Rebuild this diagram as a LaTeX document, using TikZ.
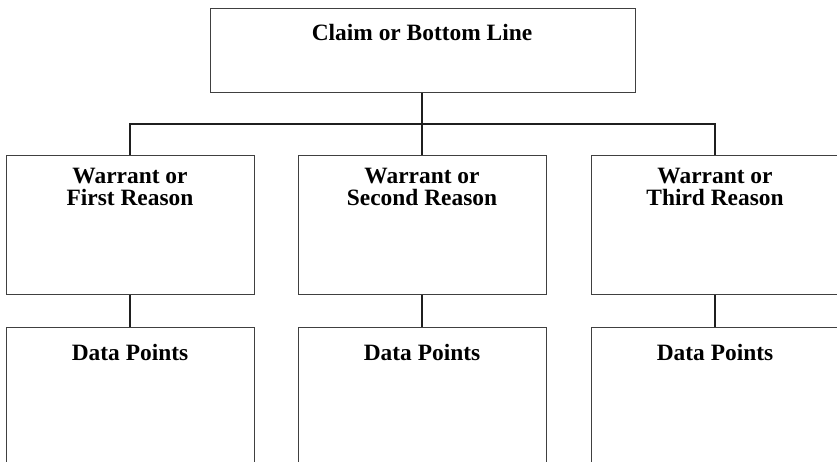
\documentclass[tikz,border=0pt]{standalone}
\usepackage{fontspec}
\setmainfont{Liberation Serif}
\begin{document}
\begin{tikzpicture}[x=1pt,y=-1pt,
  box/.style={draw=black!75,line width=1.3pt,rectangle,inner sep=0pt,anchor=north west},
  conn/.style={draw=black!88,line width=2.6pt},
  lbl/.style={anchor=base,inner sep=0pt,font=\fontsize{23.4}{26}\selectfont\bfseries}]
\useasboundingbox (0,0) rectangle (837,462);
\clip (0,0) rectangle (837,462);
\fill[white] (0,0) rectangle (837,462);
% top
\node[box,minimum width=425pt,minimum height=84pt] (top) at (210,8) {};
\node[lbl] (toptxt) at (422,41) {Claim or Bottom Line};
% middle boxes
\node[box,minimum width=248pt,minimum height=139pt] (w1) at (6,155) {};
\node[box,minimum width=248pt,minimum height=139pt] (w2) at (298,155) {};
\node[box,minimum width=248pt,minimum height=139pt] (w3) at (591,155) {};
\node[lbl] (w1a) at (130,184) {Warrant or};
\node[lbl] (w1b) at (130,206) {First Reason};
\node[lbl] (w2a) at (422,184) {Warrant or};
\node[lbl] (w2b) at (422,206) {Second Reason};
\node[lbl] (w3a) at (715,184) {Warrant or};
\node[lbl] (w3b) at (715,206) {Third Reason};
% bottom boxes
\node[box,minimum width=248pt,minimum height=160pt] (d1) at (6,327) {};
\node[box,minimum width=248pt,minimum height=160pt] (d2) at (298,327) {};
\node[box,minimum width=248pt,minimum height=160pt] (d3) at (591,327) {};
\node[lbl] (d1t) at (130,360) {Data Points};
\node[lbl] (d2t) at (422,360) {Data Points};
\node[lbl] (d3t) at (715,360) {Data Points};
% connectors
\coordinate (busL) at (130,124);
\coordinate (busM) at (422,124);
\coordinate (busR) at (715,124);
\draw[conn] (top.south -| busM) -- (w2.north -| busM);
\draw[conn] (w1.north -| busL) -- (busL) -- (busR) -- (w3.north -| busR);
\draw[conn] (w1.south -| busL) -- (d1.north -| busL);
\draw[conn] (w2.south -| busM) -- (d2.north -| busM);
\draw[conn] (w3.south -| busR) -- (d3.north -| busR);
\end{tikzpicture}
\end{document}
